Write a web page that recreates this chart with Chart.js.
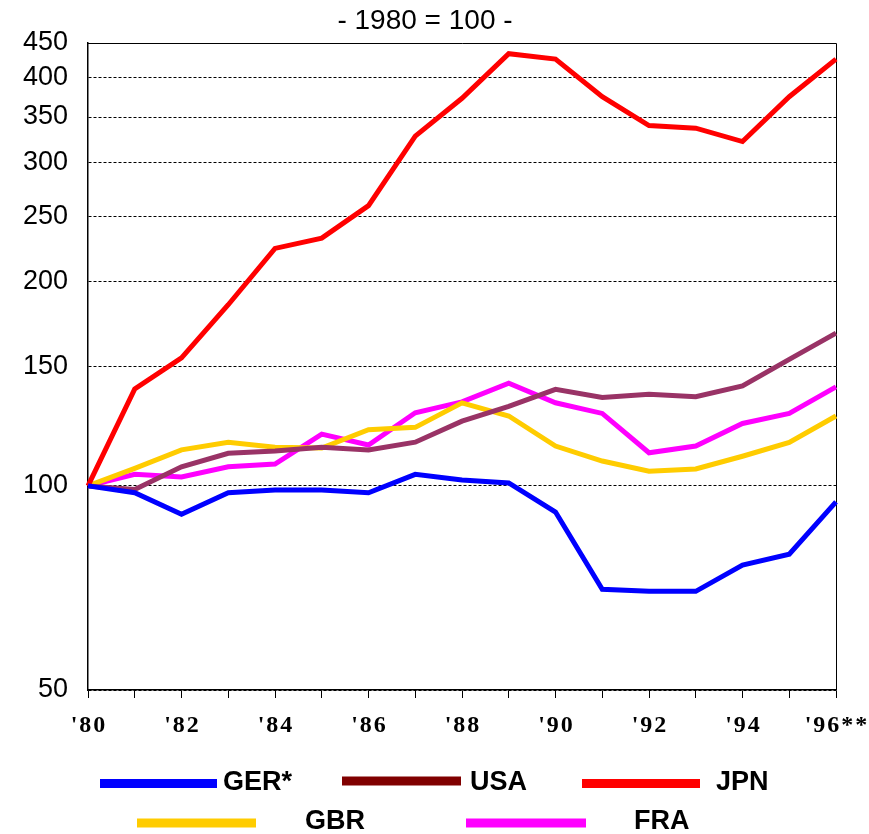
<!DOCTYPE html>
<html>
<head>
<meta charset="utf-8">
<script src="https://cdn.jsdelivr.net/npm/chart.js@4/dist/chart.umd.min.js"></script>
<style>
  html, body { margin: 0; padding: 0; background: #fff; }
  #wrap { width: 869px; height: 834px; }
</style>
</head>
<body>
<div id="wrap"><canvas id="myChart" width="869" height="834"></canvas></div>
<script>
// data (index, 1980 = 100)
var years = ['1980', '1981', '1982', '1983', '1984', '1985', '1986', '1987', '1988',
             '1989', '1990', '1991', '1992', '1993', '1994', '1995', '1996'];
var xTickLabels = ["'80", '', "'82", '', "'84", '', "'86", '', "'88",
                   '', "'90", '', "'92", '', "'94", '', "'96**"];
var yTicks = [50, 100, 150, 200, 250, 300, 350, 400, 450];

var seriesNames = ['GER*', 'USA', 'JPN', 'GBR', 'FRA'];
var ger = [100, 97.7, 90.8, 97.7, 98.6, 98.6, 97.7, 104, 102, 101, 91.5, 70.4, 69.9, 69.9, 76.4, 79.3, 94.7];
var usa = [100, 98.8, 106.7, 111.7, 112.6, 114, 113, 116, 124.6, 131, 138.8, 135, 136.5, 135.4, 140.4, 153.7, 168];
var jpn = [100, 139, 154.5, 185, 224, 232, 259, 328, 373, 434, 426, 375, 340, 337, 322, 375, 426];
var gbr = [100, 106.1, 113, 116, 114, 113.7, 121, 122, 132.6, 126.8, 114.5, 108.8, 105.1, 105.9, 110.6, 115.9, 126.8];
var fra = [100, 104, 103.1, 106.7, 107.7, 119.2, 114.9, 128.2, 133, 141.7, 132.6, 127.9, 111.9, 114.5, 123.6, 127.9, 140];

var lineColors = ['#0000FF', '#993366', '#FF0000', '#FFCC00', '#FF00FF'];
var legendColors = ['#0000FF', '#800000', '#FF0000', '#FFCC00', '#FF00FF'];

var SANS = "'Liberation Sans', Arial, sans-serif";
var SERIF = "'Liberation Serif', 'Times New Roman', serif";
var HAIR = '\u200A';

// where each legend entry sits: sample line from x1 to x2 at y, label at tx
var legendSpots = [
    { x1: 100, x2: 217, y: 783.5, tx: 223, ty: 783 },
    { x1: 342, x2: 461, y: 781, tx: 470, ty: 783 },
    { x1: 582, x2: 700, y: 783.5, tx: 716, ty: 783 },
    { x1: 137, x2: 256, y: 823, tx: 305, ty: 822 },
    { x1: 466, x2: 586, y: 823, tx: 634, ty: 822 }
];

var frame = {
    id: 'frame',
    beforeDatasetsDraw: function (chart) {
        var a = chart.chartArea, c = chart.ctx;
        c.save();
        c.strokeStyle = '#000';
        c.lineWidth = 1;
        c.beginPath();
        c.moveTo(a.left, a.top + 0.5);
        c.lineTo(a.right + 0.5, a.top + 0.5);
        c.lineTo(a.right + 0.5, a.bottom);
        c.stroke();
        c.restore();
    },
    afterDraw: function (chart) {
        var c = chart.ctx;
        c.save();
        c.fillStyle = '#000';
        c.font = '28px ' + SANS;
        c.textAlign = 'center';
        c.textBaseline = 'middle';
        c.fillText('- 1980 = 100 -', 425, 21);

        c.font = 'bold 27px ' + SANS;
        c.textAlign = 'left';
        legendSpots.forEach(function (s, i) {
            c.strokeStyle = legendColors[i];
            c.lineWidth = 9;
            c.lineCap = 'butt';
            c.beginPath();
            c.moveTo(s.x1, s.y);
            c.lineTo(s.x2, s.y);
            c.stroke();
            c.fillStyle = '#000';
            c.fillText(chart.data.datasets[i].label, s.tx, s.ty);
        });
        c.restore();
    }
};

function makeSet(i, values) {
    return {
        label: seriesNames[i],
        data: values,
        borderColor: lineColors[i],
        backgroundColor: lineColors[i],
        borderWidth: 5,
        pointRadius: 0,
        tension: 0,
        fill: false
    };
}

var ctx = document.getElementById('myChart').getContext('2d');
var myChart = new Chart(ctx, {
    type: 'line',
    data: {
        labels: years,
        datasets: [
            makeSet(0, ger),
            makeSet(1, usa),
            makeSet(2, jpn),
            makeSet(3, gbr),
            makeSet(4, fra)
        ]
    },
    options: {
        responsive: false,
        animation: false,
        devicePixelRatio: 1,
        layout: { padding: { left: 0, right: 33, top: 43, bottom: 0 } },
        plugins: {
            legend: { display: false },
            title: { display: false },
            tooltip: { enabled: false }
        },
        scales: {
            x: {
                type: 'category',
                offset: false,
                border: { display: true, color: '#000', width: 1.5 },
                grid: {
                    display: true,
                    drawOnChartArea: false,
                    drawTicks: true,
                    tickLength: 8,
                    color: '#000',
                    lineWidth: 1
                },
                ticks: {
                    autoSkip: false,
                    maxRotation: 0,
                    padding: 13,
                    color: '#000',
                    font: { family: SERIF, size: 24, weight: 'bold' },
                    callback: function (val, idx) {
                        return xTickLabels[idx].split('').join(HAIR);
                    }
                },
                afterFit: function (scale) {
                    scale.height = 144;
                    scale.paddingLeft = 0;
                    scale.paddingRight = 0;
                }
            },
            y: {
                type: 'logarithmic',
                min: 50,
                max: 450,
                border: { display: true, color: '#000', width: 1.5, dash: [3, 2] },
                grid: {
                    color: '#000',
                    lineWidth: 1,
                    drawTicks: false
                },
                ticks: {
                    padding: 20,
                    color: '#000',
                    font: { family: SANS, size: 27 },
                    callback: function (v) { return String(v); }
                },
                afterBuildTicks: function (scale) {
                    scale.ticks = yTicks.map(function (v) { return { value: v }; });
                },
                afterFit: function (scale) { scale.width = 88; }
            }
        }
    },
    plugins: [frame]
});
</script>
</body>
</html>
